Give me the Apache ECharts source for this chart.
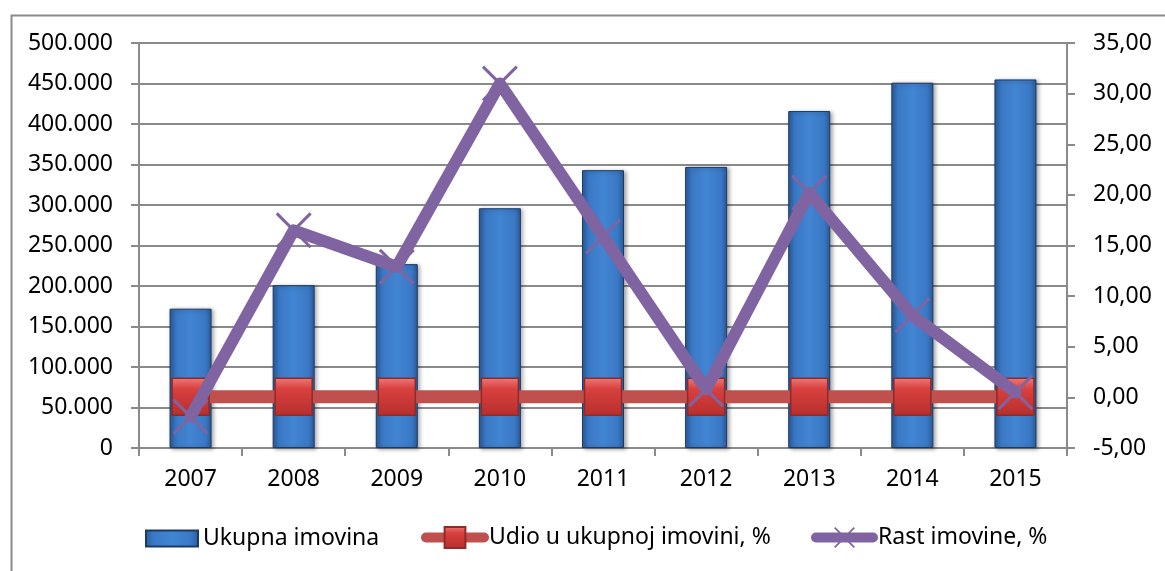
<!DOCTYPE html>
<html>
<head>
<meta charset="utf-8">
<script src="https://cdn.jsdelivr.net/npm/echarts@6/dist/echarts.min.js"></script>
<style>
html,body{margin:0;padding:0;background:#fff;}
#main{width:1165px;height:571px;}
</style>
</head>
<body>
<div id="main"></div>
<script>
// ---- data ----
const years = ['2007','2008','2009','2010','2011','2012','2013','2014','2015'];
const ukupnaImovina = [172000, 201000, 227000, 296000, 343000, 347000, 416000, 451000, 455000];
const udioUkupnoj = [0.07, 0.07, 0.07, 0.07, 0.07, 0.07, 0.07, 0.07, 0.07];
const rastImovine = [-1.9, 16.5, 12.9, 31.0, 15.9, 0.8, 20.2, 8.1, 0.5];
const leftTicks = {min: 0, max: 500000, interval: 50000};
const rightTicks = {min: -5, max: 35, interval: 5};

const FONT = 'Noto Sans';
const FS = 23;
const GRAY = '#8a8a8a';
const xPath = 'path://M0,1.2L1.2,0L20,18.8L18.8,20Z M18.8,0L20,1.2L1.2,20L0,18.8Z';

const barColor = {
  type: 'linear', x: 0, y: 0, x2: 1, y2: 0,
  colorStops: [
    {offset: 0, color: '#2a5c9a'},
    {offset: 0.15, color: '#3a78c4'},
    {offset: 0.5, color: '#4285d3'},
    {offset: 0.85, color: '#3a78c4'},
    {offset: 1, color: '#2a5c9a'}
  ]
};
const redSq = {
  type: 'linear', x: 0, y: 0, x2: 0, y2: 1,
  colorStops: [
    {offset: 0, color: '#f07a78'},
    {offset: 0.3, color: '#d8403e'},
    {offset: 1, color: '#b52f2d'}
  ]
};
const legendText = {fontFamily: FONT, fontSize: FS, color: '#000'};

const chart = echarts.init(document.getElementById('main'), null, {renderer: 'canvas'});
chart.setOption({
  backgroundColor: '#fff',
  animation: false,
  textStyle: {fontFamily: FONT},
  graphic: [{
    type: 'rect', left: 9, top: 13, silent: true,
    shape: {width: 1300, height: 700},
    style: {fill: 'none', stroke: GRAY, lineWidth: 2}
  }],
  grid: {left: 139, right: 98, top: 43, bottom: 123, containLabel: false},
  legend: [
    {left: 145, top: 527, padding: 0, itemWidth: 52, itemHeight: 16, itemGap: 0,
     data: [{name: 'Ukupna imovina', icon: 'rect'}],
     textStyle: legendText},
    {left: 421, top: 526, padding: 0, itemWidth: 58, itemHeight: 26, itemGap: 0,
     lineStyle: {width: 10, cap: 'round'},
     data: ['Udio u ukupnoj imovini, %'],
     textStyle: legendText},
    {left: 811, top: 526, padding: 0, itemWidth: 57, itemHeight: 26, itemGap: 0,
     lineStyle: {width: 10, cap: 'round'},
     data: ['Rast imovine, %'],
     textStyle: legendText}
  ],
  xAxis: {
    type: 'category', data: years, boundaryGap: true,
    axisLine: {lineStyle: {color: GRAY, width: 2}},
    axisTick: {show: true, length: 8, lineStyle: {color: GRAY, width: 2}},
    axisLabel: {fontFamily: FONT, fontSize: FS, color: '#000', margin: 20}
  },
  yAxis: [{
    type: 'value', min: leftTicks.min, max: leftTicks.max, interval: leftTicks.interval,
    axisLine: {show: true, lineStyle: {color: GRAY, width: 2}},
    axisTick: {show: true, length: 8, lineStyle: {color: GRAY, width: 2}},
    splitLine: {show: true, lineStyle: {color: GRAY, width: 2}},
    axisLabel: {fontFamily: FONT, fontSize: FS, color: '#000', margin: 26,
      formatter: v => v === 0 ? '0' : String(v).replace(/\B(?=(\d{3})+(?!\d))/g, '.')}
  }, {
    type: 'value', min: rightTicks.min, max: rightTicks.max, interval: rightTicks.interval,
    position: 'right',
    axisLine: {show: true, lineStyle: {color: GRAY, width: 2}},
    axisTick: {show: true, length: 8, lineStyle: {color: GRAY, width: 2}},
    splitLine: {show: false},
    axisLabel: {fontFamily: FONT, fontSize: FS, color: '#000', margin: 26,
      formatter: v => v.toFixed(2).replace('.', ',')}
  }],
  series: [{
    name: 'Ukupna imovina', type: 'bar', data: ukupnaImovina, yAxisIndex: 0,
    barWidth: 42,
    itemStyle: {color: barColor, borderColor: '#1b3a66', borderWidth: 1,
      shadowBlur: 4, shadowColor: 'rgba(0,0,0,0.35)', shadowOffsetX: 2, shadowOffsetY: 1},
    z: 2
  }, {
    name: 'Udio u ukupnoj imovini, %', type: 'line', data: udioUkupnoj, yAxisIndex: 1,
    symbol: 'rect', symbolSize: 37,
    lineStyle: {color: '#c0504d', width: 13},
    itemStyle: {color: redSq, borderColor: '#8e2a28', borderWidth: 1.5},
    z: 3
  }, {
    name: 'Rast imovine, %', type: 'line', data: rastImovine, yAxisIndex: 1,
    symbol: xPath, symbolSize: 36,
    lineStyle: {color: '#8064a2', width: 12, cap: 'round', join: 'round'},
    itemStyle: {color: '#8064a2'},
    z: 4
  }]
});
</script>
</body>
</html>
